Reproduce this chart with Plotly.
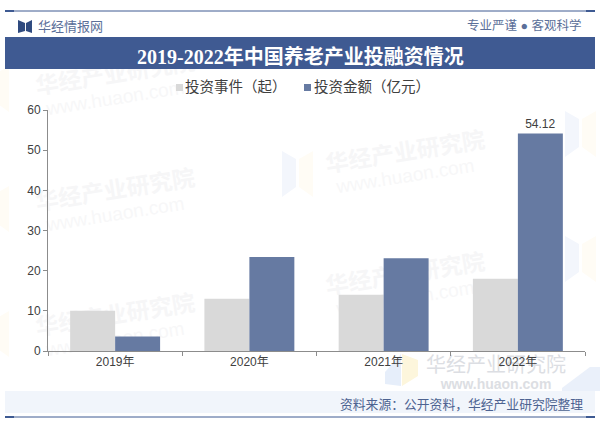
import plotly.graph_objects as go

years = ['2019年', '2020年', '2021年', '2022年']
events = [10, 13, 14, 18]
amounts = [3.6, 23.4, 23.1, 54.12]
amount_labels = ['', '', '', '54.12']
y_ticks = [0, 10, 20, 30, 40, 50, 60]
series_names = ['投资事件（起）', '投资金额（亿元）']
series_colors = ['#d9d9d9', '#667aa2']

W = 600
H = 422
CJK = '"Liberation Sans", "Noto Sans CJK SC", sans-serif'
NAVY = '#3f5a92'


def px(x):
    return x / W


def py(y):
    return 1 - y / H


def paper_rect(x0, y0, x1, y1, color, layer='below'):
    return dict(type='rect', xref='paper', yref='paper', x0=px(x0), x1=px(x1),
                y0=py(y0), y1=py(y1), fillcolor=color, line_width=0, layer=layer)


def paper_poly(points, color):
    path = 'M' + ' L'.join(f'{px(a):.4f},{py(b):.4f}' for a, b in points) + ' Z'
    return dict(type='path', xref='paper', yref='paper', path=path, fillcolor=color,
                line_width=0, layer='below')


def watermark(x, y, text, size, color, angle=0):
    # 用透明矩形的 label 放水印，这样能压在柱子下面
    s = paper_rect(x - 100, y - 20, x + 100, y + 20, 'rgba(0,0,0,0)')
    s['label'] = dict(text=text, textangle=angle, textposition='middle center',
                      font=dict(size=size, color=color, family=CJK))
    return s


fig = go.Figure()
fig.add_trace(go.Bar(x=years, y=events, name=series_names[0], marker_color=series_colors[0],
                     marker_line_width=0))
fig.add_trace(go.Bar(x=years, y=amounts, name=series_names[1], marker_color=series_colors[1],
                     marker_line_width=0, text=amount_labels, textposition='outside',
                     cliponaxis=False,
                     textfont=dict(size=12, color='#404040', family=CJK)))

shapes = []

# 背景的淡色水印图形
for bx, by in [(-22, 90), (-22, 210), (-22, 335), (282, 175), (565, 135), (565, 260)]:
    shapes.append(paper_poly([(bx, by - 24), (bx + 14, by - 16), (bx + 14, by + 12), (bx, by + 22)], '#f3f6fc'))
    shapes.append(paper_poly([(bx + 17, by - 16), (bx + 31, by - 24), (bx + 31, by + 22), (bx + 17, by + 12)], '#fffcf5'))
shapes.append(paper_poly([(385, 372), (401, 354), (401, 386), (385, 384)], '#e6eefa'))
shapes.append(paper_poly([(402, 354), (418, 360), (418, 376), (402, 386)], '#fdf6dc'))
shapes.append(paper_poly([(562, 388), (590, 367), (600, 367), (600, 391), (562, 391)], '#eaf0fa'))

for wx, wy in [(115, 72), (115, 188), (405, 150), (405, 272), (115, 313)]:
    shapes.append(watermark(wx, wy, '<b>华经产业研究院</b>', 23, '#f6f6f7', -9))
    shapes.append(watermark(wx, wy + 24, 'www.huaon.com', 19, '#f7f7f8', -9))

shapes += [
    # 顶部细线和标题底色
    paper_rect(5, 37, 595, 69, NAVY),
    dict(type='line', xref='paper', yref='paper', x0=px(5), x1=px(595), y0=py(11), y1=py(11),
         line=dict(color=NAVY, width=1)),
    paper_rect(5, 10, 14, 12, NAVY),
    paper_rect(586, 10, 595, 12, NAVY),
    # 底部来源条
    paper_rect(5, 391, 595, 413, '#f1f5fb'),
    dict(type='line', xref='paper', yref='paper', x0=px(5), x1=px(595), y0=py(417), y1=py(417),
         line=dict(color=NAVY, width=1)),
    paper_rect(5, 416, 14, 418, NAVY),
    paper_rect(586, 416, 595, 418, NAVY),
    # logo
    paper_poly([(18, 20), (25, 23), (25, 31), (18, 33)], '#2f4a7f'),
    paper_poly([(26, 23), (32, 20), (32, 33), (26, 31)], '#2f4a7f'),
    # 图例色块
    paper_rect(176, 84, 183, 91, series_colors[0], 'above'),
    paper_rect(304, 84, 311, 91, series_colors[1], 'above'),
]

shapes.append(watermark(496, 363, '华经产业研究院', 20, '#dcdee3'))
shapes.append(watermark(496, 383, '<b>www.huaon.com</b>', 14, '#dcdee3'))

annotations = [
    dict(text='华经情报网', x=px(36), y=py(27), xanchor='left', font=dict(size=13, color='#5b6f99')),
    dict(text='专业严谨 ● 客观科学', x=px(584), y=py(26), xanchor='right',
         font=dict(size=12.5, color='#5b6f99')),
    dict(text='<b>2019-2022年中国养老产业投融资情况</b>', x=px(300), y=py(56),
         font=dict(size=20, color='white', family='"Liberation Serif", "Noto Sans CJK SC", serif')),
    dict(text=series_names[0], x=px(183), y=py(87), xanchor='left', font=dict(size=14.5, color='#404040')),
    dict(text=series_names[1], x=px(312), y=py(87), xanchor='left', font=dict(size=14.5, color='#404040')),
    dict(text='资料来源：公开资料，华经产业研究院整理', x=px(585), y=py(404), xanchor='right',
         font=dict(size=12.8, color='#4d6391')),
]
for a in annotations:
    a.update(xref='paper', yref='paper', showarrow=False, yanchor='middle')

fig.update_layout(
    width=W, height=H,
    margin=dict(l=0, r=0, t=0, b=0, autoexpand=False),
    paper_bgcolor='white', plot_bgcolor='rgba(0,0,0,0)',
    font=dict(family=CJK, color='#404040', size=12),
    barmode='group', bargap=0.33, bargroupgap=0,
    showlegend=False,
    shapes=shapes,
    annotations=annotations,
    xaxis=dict(domain=[px(48), px(585)], anchor='y', showline=True, linecolor='#8c8c8c',
               ticks='outside', ticklen=4, tickcolor='#8c8c8c', showgrid=False,
               tickfont=dict(size=12, color='#404040'), tickson='boundaries'),
    yaxis=dict(domain=[py(351), py(110)], anchor='x', range=[0, 60], tickvals=y_ticks,
               showline=True, linecolor='#8c8c8c', ticks='outside', ticklen=4,
               tickcolor='#8c8c8c', showgrid=False, zeroline=False,
               tickfont=dict(size=12, color='#404040')),
)

fig.write_html('out.html', config=dict(displayModeBar=False),
               post_script="document.body.style.margin='0';")
